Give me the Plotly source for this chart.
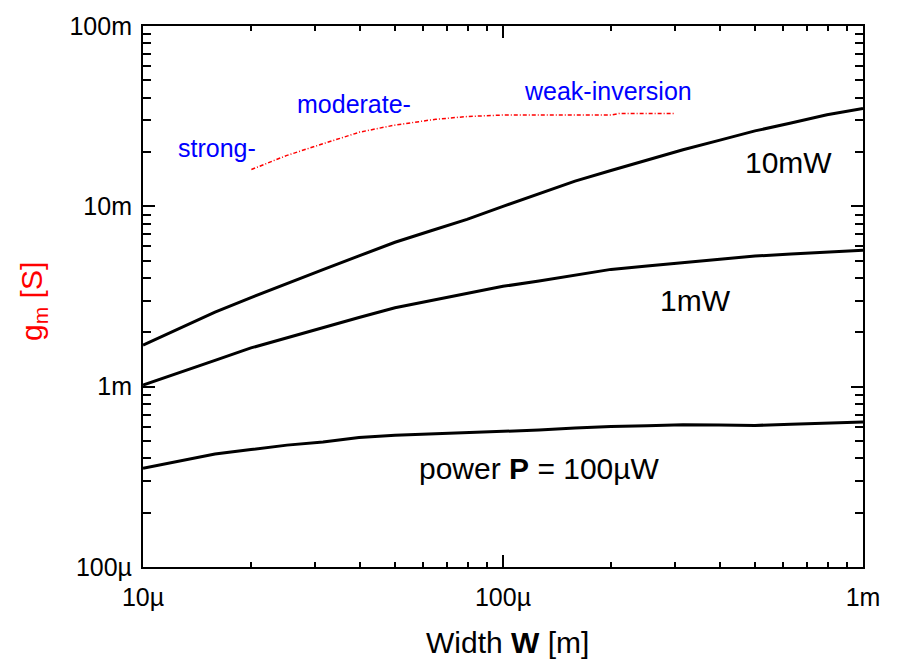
import plotly.graph_objects as go

# Transistor width sweep (m), 10 points per decade from 10u to 1m
width_m = [1.0e-5, 1.259e-5, 1.585e-5, 1.995e-5, 2.512e-5, 3.162e-5, 3.981e-5,
           5.012e-5, 6.310e-5, 7.943e-5, 1.0e-4, 1.259e-4, 1.585e-4, 1.995e-4,
           2.512e-4, 3.162e-4, 3.981e-4, 5.012e-4, 6.310e-4, 7.943e-4, 1.0e-3]

# Transconductance gm (S) at fixed power
gm_10mW = [1.70e-3, 2.10e-3, 2.59e-3, 3.12e-3, 3.75e-3, 4.46e-3, 5.31e-3,
           6.32e-3, 7.32e-3, 8.46e-3, 10.0e-3, 11.8e-3, 13.8e-3, 15.8e-3,
           18.1e-3, 20.6e-3, 23.2e-3, 26.2e-3, 29.0e-3, 32.2e-3, 34.9e-3]
gm_1mW = [1.02e-3, 1.19e-3, 1.40e-3, 1.64e-3, 1.87e-3, 2.13e-3, 2.42e-3,
          2.74e-3, 3.00e-3, 3.30e-3, 3.60e-3, 3.85e-3, 4.16e-3, 4.47e-3,
          4.67e-3, 4.88e-3, 5.09e-3, 5.30e-3, 5.44e-3, 5.56e-3, 5.70e-3]
gm_100uW = [353e-6, 387e-6, 423e-6, 448e-6, 474e-6, 494e-6, 522e-6,
            537e-6, 546e-6, 555e-6, 561e-6, 575e-6, 589e-6, 602e-6,
            608e-6, 615e-6, 612e-6, 610e-6, 618e-6, 627e-6, 636e-6]

# Inversion-region guide curve
guide_w = [20e-6, 25e-6, 30e-6, 40e-6, 50e-6, 65e-6, 80e-6, 100e-6,
           200e-6, 210e-6, 300e-6]
guide_gm = [16.0e-3, 19.1e-3, 21.5e-3, 25.8e-3, 28.2e-3, 30.4e-3, 31.5e-3,
            32.1e-3, 32.1e-3, 32.7e-3, 32.7e-3]

x_major = [1e-5, 1e-4, 1e-3]
x_major_text = ["10µ", "100µ", "1m"]
y_major = [1e-4, 1e-3, 1e-2, 1e-1]
y_major_text = ["100µ", "1m", "10m", "100m"]

FONT = "Liberation Sans, Arial, sans-serif"

fig = go.Figure()
for gm in (gm_10mW, gm_1mW, gm_100uW):
    fig.add_trace(go.Scatter(x=width_m, y=gm, mode="lines",
                             line=dict(color="black", width=3),
                             showlegend=False, hoverinfo="skip"))
fig.add_trace(go.Scatter(x=guide_w, y=guide_gm, mode="lines",
                         line=dict(color="#ff0000", width=1.5, dash="4px,2px,1px,2px"),
                         showlegend=False, hoverinfo="skip"))


def minor_vals(lo_exp, hi_exp):
    vals = []
    for e in range(lo_exp, hi_exp):
        for m in range(2, 10):
            vals.append(m * 10.0 ** e)
    return vals


L, R, T, B = 143, 38, 18, 99
W, H = 901, 666
pw, ph = W - L - R, H - T - B


def px(xp):
    return (xp - L) / pw


def py(yp):
    return (H - B - yp) / ph


axis_common = dict(
    type="log", showgrid=False, zeroline=False,
    showline=True, linecolor="black", linewidth=2, mirror="allticks",
    ticks="inside", ticklen=12, tickwidth=2, tickcolor="black",
    tickmode="array",
    tickfont=dict(family=FONT, size=25, color="black"),
)

fig.update_xaxes(**axis_common, range=[-5, -3],
                 tickvals=x_major, ticktext=x_major_text,
                 ticklabelstandoff=7,
                 minor=dict(tickmode="array", tickvals=minor_vals(-5, -3),
                            ticks="inside", ticklen=5, tickwidth=1.5,
                            tickcolor="black", showgrid=False))
fig.update_yaxes(**axis_common, range=[-4, -1],
                 tickvals=y_major, ticktext=y_major_text,
                 ticklabelstandoff=4,
                 minor=dict(tickmode="array", tickvals=minor_vals(-4, -1),
                            ticks="inside", ticklen=8, tickwidth=1.5,
                            tickcolor="black", showgrid=False))

labels = [
    ("strong-", 217, 142, 25, "#0000ff"),
    ("moderate-", 354, 97, 25, "#0000ff"),
    ("weak-inversion", 608, 84, 25, "#0000ff"),
    ("10mW", 788, 157, 30, "black"),
    ("1mW", 695, 297, 30, "black"),
    ("power <b>P</b> = 100µW", 539, 467, 30, "black"),
]
annotations = []
for text, xp, yp, size, color in labels:
    annotations.append(dict(text=text, x=px(xp), y=py(yp), xref="paper", yref="paper",
                            xanchor="center", yanchor="middle", showarrow=False,
                            font=dict(family=FONT, size=size, color=color)))

annotations.append(dict(text="Width <b>W</b> [m]", x=px(507), y=py(644),
                        xref="paper", yref="paper", xanchor="center", yanchor="middle",
                        showarrow=False, font=dict(family=FONT, size=30, color="black")))
annotations.append(dict(text="g<sub>m</sub> [S]", x=px(34), y=py(298),
                        xref="paper", yref="paper", xanchor="center", yanchor="middle",
                        textangle=-90, showarrow=False,
                        font=dict(family=FONT, size=30, color="#ff0000")))

fig.update_layout(
    width=W, height=H,
    margin=dict(l=L, r=R, t=T, b=B),
    paper_bgcolor="white", plot_bgcolor="white",
    annotations=annotations,
)

fig.write_html("out.html")
